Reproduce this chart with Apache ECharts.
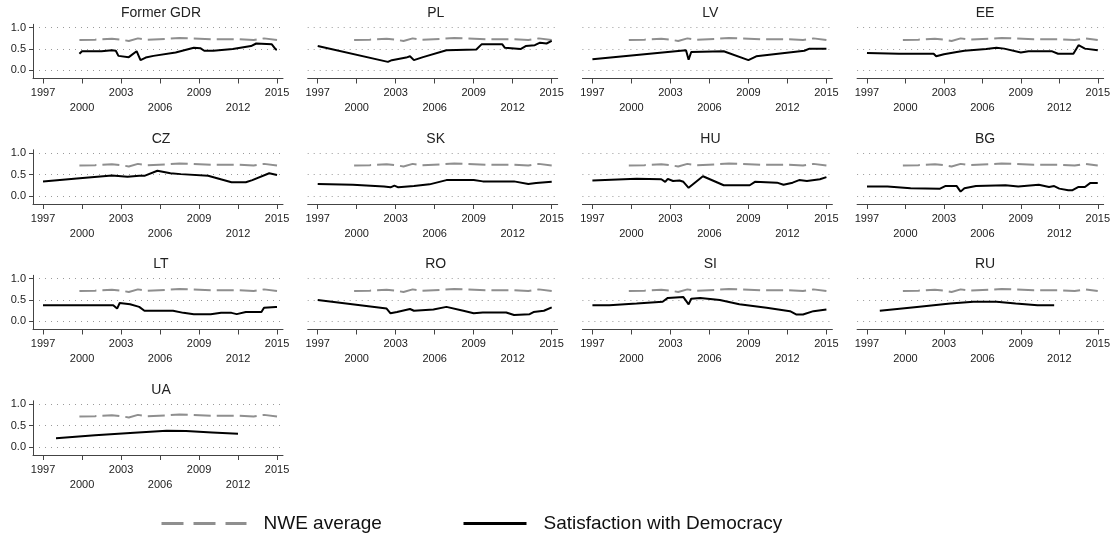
<!DOCTYPE html>
<html>
<head>
<meta charset="utf-8">
<script src="https://cdn.jsdelivr.net/npm/echarts@6/dist/echarts.min.js"></script>
<style>
  html, body { margin: 0; padding: 0; background: #fff; }
  #chart { width: 1113px; height: 538px; }
</style>
</head>
<body>
<div id="chart"></div>
<script>
// Panels, in reading order
const panelNames = ['Former GDR', 'PL', 'LV', 'EE', 'CZ', 'SK', 'HU', 'BG', 'LT', 'RO', 'SI', 'RU', 'UA'];
const yearTicks = [1997, 2000, 2003, 2006, 2009, 2012, 2015];
const lowerRowYears = [2000, 2006, 2012];
const valueTicks = [0, 0.5, 1];

// North-West European average (same reference line in every panel)
const nweAverage = [
  [1999.8, 0.71], [2001.0, 0.72], [2002.3, 0.74], [2003.0, 0.72], [2003.6, 0.69],
  [2004.3, 0.75], [2005.0, 0.72], [2006.5, 0.74], [2007.5, 0.76], [2008.5, 0.75],
  [2010.0, 0.73], [2012.0, 0.73], [2013.2, 0.71], [2014.0, 0.75], [2015.0, 0.71]
];

// Satisfaction with democracy, by country
const satGDR = [
  [1999.8, 0.39], [2000.0, 0.45], [2001.5, 0.45], [2002.3, 0.47], [2002.6, 0.46], [2002.8, 0.34],
  [2003.6, 0.31], [2004.2, 0.45], [2004.5, 0.24], [2004.9, 0.30], [2005.5, 0.34], [2007.2, 0.42],
  [2008.6, 0.53], [2009.1, 0.52], [2009.4, 0.46], [2010.1, 0.46], [2011.6, 0.50], [2013.0, 0.57],
  [2013.4, 0.63], [2014.6, 0.61], [2014.9, 0.49], [2015.0, 0.49]
];
const satPL = [
  [1997.0, 0.57], [2002.4, 0.20], [2002.7, 0.24], [2003.8, 0.30], [2004.1, 0.33], [2004.4, 0.24],
  [2005.1, 0.31], [2006.9, 0.47], [2009.2, 0.49], [2009.6, 0.61], [2011.2, 0.61], [2011.4, 0.53],
  [2012.6, 0.50], [2013.0, 0.57], [2013.7, 0.59], [2014.1, 0.65], [2014.6, 0.63], [2015.0, 0.69]
];
const satLV = [
  [1997.0, 0.26], [2004.2, 0.47], [2004.4, 0.25], [2004.6, 0.43], [2007.1, 0.45], [2009.0, 0.24],
  [2009.6, 0.33], [2013.3, 0.46], [2013.7, 0.51], [2015.0, 0.51]
];
const satEE = [
  [1997.0, 0.41], [1999.5, 0.39], [2002.2, 0.39], [2002.4, 0.33], [2003.0, 0.38], [2004.0, 0.43],
  [2004.6, 0.46], [2006.3, 0.50], [2007.1, 0.53], [2007.7, 0.51], [2009.0, 0.42], [2009.6, 0.45],
  [2011.4, 0.45], [2011.9, 0.39], [2013.1, 0.39], [2013.5, 0.59], [2014.0, 0.51], [2015.0, 0.47]
];
const satCZ = [
  [1997.0, 0.34], [1999.6, 0.41], [2002.3, 0.48], [2003.5, 0.45], [2004.4, 0.47], [2004.5, 0.51],
  [2004.8, 0.47], [2005.8, 0.59], [2006.8, 0.53], [2007.6, 0.51], [2009.7, 0.47], [2011.5, 0.32],
  [2012.6, 0.32], [2013.1, 0.37], [2014.4, 0.53], [2015.0, 0.49]
];
const satSK = [
  [1997.0, 0.28], [1999.7, 0.26], [2002.1, 0.22], [2002.6, 0.20], [2002.9, 0.24], [2003.2, 0.20],
  [2004.4, 0.23], [2005.6, 0.27], [2006.9, 0.37], [2009.0, 0.37], [2009.7, 0.34], [2012.1, 0.34],
  [2013.2, 0.28], [2013.8, 0.30], [2015.0, 0.33]
];
const satHU = [
  [1997.0, 0.36], [2000.4, 0.40], [2002.3, 0.39], [2002.6, 0.33], [2002.8, 0.40], [2003.2, 0.35],
  [2003.7, 0.36], [2004.0, 0.33], [2004.4, 0.19], [2005.5, 0.46], [2007.1, 0.25], [2009.1, 0.25],
  [2009.5, 0.33], [2011.2, 0.31], [2011.7, 0.26], [2012.4, 0.31], [2012.9, 0.37], [2013.5, 0.35],
  [2014.5, 0.39], [2015.0, 0.44]
];
const satBG = [
  [1997.0, 0.22], [1998.6, 0.22], [2000.4, 0.18], [2002.7, 0.17], [2003.1, 0.23], [2004.0, 0.23],
  [2004.3, 0.10], [2004.6, 0.18], [2005.5, 0.23], [2007.8, 0.25], [2008.8, 0.22], [2010.4, 0.26],
  [2011.2, 0.21], [2011.6, 0.23], [2012.0, 0.17], [2012.7, 0.13], [2013.0, 0.13], [2013.5, 0.21],
  [2014.0, 0.21], [2014.4, 0.30], [2015.0, 0.30]
];
const satLT = [
  [1997.0, 0.38], [2002.4, 0.38], [2002.7, 0.30], [2002.9, 0.43], [2003.7, 0.40], [2004.4, 0.34],
  [2004.8, 0.25], [2007.0, 0.25], [2007.8, 0.20], [2008.6, 0.17], [2009.9, 0.17], [2010.7, 0.20],
  [2011.5, 0.20], [2011.9, 0.17], [2012.6, 0.22], [2013.8, 0.22], [2014.0, 0.32], [2014.9, 0.34],
  [2015.0, 0.34]
];
const satRO = [
  [1997.0, 0.50], [2002.3, 0.30], [2002.6, 0.19], [2003.1, 0.22], [2004.1, 0.29], [2004.4, 0.25],
  [2005.9, 0.28], [2006.9, 0.34], [2008.2, 0.25], [2009.0, 0.19], [2009.7, 0.21], [2011.5, 0.21],
  [2012.1, 0.15], [2013.3, 0.17], [2013.6, 0.22], [2014.4, 0.25], [2015.0, 0.33]
];
const satSI = [
  [1997.0, 0.38], [1998.3, 0.38], [2000.4, 0.42], [2002.4, 0.46], [2002.8, 0.55], [2004.0, 0.57],
  [2004.4, 0.40], [2004.6, 0.53], [2005.3, 0.55], [2006.8, 0.50], [2008.3, 0.40], [2010.4, 0.32],
  [2012.2, 0.24], [2012.7, 0.16], [2013.2, 0.16], [2014.0, 0.24], [2015.0, 0.28]
];
const satRU = [
  [1998.0, 0.25], [2000.9, 0.34], [2003.5, 0.42], [2005.3, 0.46], [2007.1, 0.46], [2008.6, 0.42],
  [2010.3, 0.38], [2011.6, 0.38]
];
const satUA = [
  [1998.0, 0.20], [2001.0, 0.27], [2004.0, 0.33], [2006.5, 0.38], [2008.0, 0.37], [2010.0, 0.34],
  [2012.0, 0.31]
];
const satisfaction = [satGDR, satPL, satLV, satEE, satCZ, satSK, satHU, satBG, satLT, satRO, satSI, satRU, satUA];

// ---- layout of the small multiples ----
const FONT = '"Liberation Sans", Arial, sans-serif';
const COLS = 4;
const colLeft0 = 33, colPitch = 274.7, gridW = 250;
const rowTop0 = 24.3, rowPitch = 125.5, gridH = 54.2;
const xMin = 1996.23, xMax = 2015.46;
const yMin = -0.19, yMax = 1.08;

const grids = [], xAxes = [], yAxes = [], series = [], titles = [];

panelNames.forEach((name, i) => {
  const r = Math.floor(i / COLS), c = i % COLS;
  const left = colLeft0 + c * colPitch;
  const top = rowTop0 + r * rowPitch;
  const firstCol = c === 0;

  grids.push({ left: left, top: top, width: gridW, height: gridH });

  titles.push({
    text: name,
    left: left + gridW / 2 - 2,
    top: top - 23,
    textAlign: 'center',
    textStyle: { fontFamily: FONT, fontSize: 14, fontWeight: 'normal', color: '#222' }
  });

  xAxes.push({
    gridIndex: i, type: 'value', min: xMin, max: xMax,
    axisLine: { show: true, onZero: false, lineStyle: { color: '#444', width: 1 } },
    axisTick: { show: true, length: 5, customValues: yearTicks, lineStyle: { color: '#444' } },
    axisLabel: {
      customValues: yearTicks, margin: 7, fontFamily: FONT, fontSize: 11, color: '#222',
      lineHeight: 15,
      formatter: v => lowerRowYears.indexOf(v) >= 0 ? '\n' + v : String(v)
    },
    splitLine: { show: false }
  });

  yAxes.push({
    gridIndex: i, type: 'value', min: yMin, max: yMax,
    axisLine: { show: firstCol, lineStyle: { color: '#444', width: 1 } },
    axisTick: { show: firstCol, length: 4, customValues: valueTicks, lineStyle: { color: '#444' } },
    axisLabel: {
      show: firstCol, customValues: valueTicks, margin: 7, fontFamily: FONT, fontSize: 11, color: '#222',
      formatter: v => v.toFixed(1)
    },
    splitLine: { show: true, lineStyle: { color: '#9a9a9a', width: 1, type: [1, 5] } }
  });

  series.push({
    name: 'NWE average', type: 'line', xAxisIndex: i, yAxisIndex: i,
    data: nweAverage, symbol: 'none', silent: true,
    itemStyle: { color: '#8f8f8f' },
    lineStyle: { color: '#8f8f8f', width: 2, type: [17, 6] }
  });
  series.push({
    name: 'Satisfaction with Democracy', type: 'line', xAxisIndex: i, yAxisIndex: i,
    data: satisfaction[i], symbol: 'none', silent: true,
    itemStyle: { color: '#000' },
    lineStyle: { color: '#000', width: 2 }
  });
});

const legendText = { fontFamily: FONT, fontSize: 19, color: '#111', padding: [0, 0, 0, 12] };
// legend keys are drawn as plain line segments (no marker)
const legendKey = { opacity: 0, borderWidth: 0 };

const chart = echarts.init(document.getElementById('chart'), null, { renderer: 'canvas' });
chart.setOption({
  animation: false,
  backgroundColor: '#fff',
  title: titles,
  grid: grids,
  xAxis: xAxes,
  yAxis: yAxes,
  legend: [
    {
      data: ['NWE average'], left: 160, top: 514, itemWidth: 85, itemHeight: 20, padding: 0,
      selectedMode: false, itemStyle: legendKey, lineStyle: { width: 3, type: [22, 10] }, textStyle: legendText
    },
    {
      data: ['Satisfaction with Democracy'], left: 462, top: 514, itemWidth: 63, itemHeight: 20, padding: 0,
      selectedMode: false, itemStyle: legendKey, lineStyle: { width: 3 }, textStyle: legendText
    }
  ],
  series: series
});
</script>
</body>
</html>
